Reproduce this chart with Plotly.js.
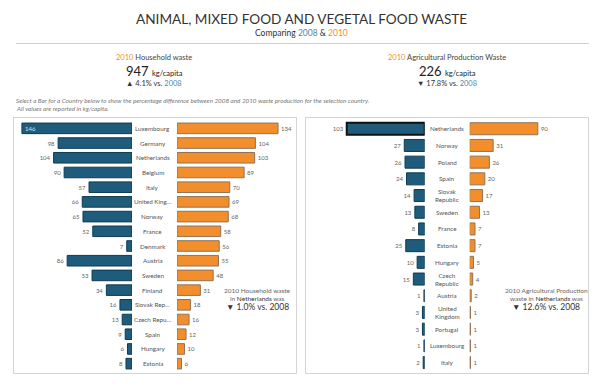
<!DOCTYPE html>
<html>
<head>
<meta charset="utf-8">
<script src="https://cdn.plot.ly/plotly-3.0.1.min.js"></script>
<style>html,body{margin:0;padding:0;background:#fff}#chart{width:602px;height:387px}</style>
</head>
<body>
<div id="chart"></div>
<script>
// ---- data ----
const hhCountries = ['Luxembourg','Germany','Netherlands','Belgium','Italy','United Kingdom','Norway','France','Denmark','Austria','Sweden','Finland','Slovak Republic','Czech Republic','Spain','Hungary','Estonia'];
const hhLabels = ['Luxembourg','Germany','Netherlands','Belgium','Italy','United King…','Norway','France','Denmark','Austria','Sweden','Finland','Slovak Rep…','Czech Repu…','Spain','Hungary','Estonia'];
const hh2008 = [146,98,104,90,57,66,65,52,7,86,53,34,16,13,9,6,8];
const hh2010 = [134,104,103,89,70,69,68,58,56,55,48,31,18,16,12,10,6];

const agCountries = ['Netherlands','Norway','Poland','Spain','Slovak Republic','Sweden','France','Estonia','Hungary','Czech Republic','Austria','United Kingdom','Portugal','Luxembourg','Italy'];
const agLabels = ['Netherlands','Norway','Poland','Spain','Slovak<br>Republic','Sweden','France','Estonia','Hungary','Czech<br>Republic','Austria','United<br>Kingdom','Portugal','Luxembourg','Italy'];
const ag2008 = [103,27,26,24,14,13,8,25,10,15,1,3,3,1,2];
const ag2010 = [90,31,26,20,17,13,7,7,5,4,2,1,1,1,1];

const selectedCountry = 'Netherlands';

// ---- helpers ----
const W = 602, H = 387;
const px = x => x / W;
const py = y => 1 - y / H;
const sum = a => a.reduce((s, v) => s + v, 0);
const pct = (a, b) => (b - a) / a * 100;
const arrow = v => v >= 0 ? '▲' : '▼';

const C08 = '#1f5b7a', C08L = '#0f3b52';
const C10 = '#f28e2b', C10L = '#8f7358';
const BLUE_TXT = '#4f87a9';
const FONT = 'Lato, sans-serif';

const hhTot10 = sum(hh2010), hhTot08 = sum(hh2008);
const agTot10 = sum(ag2010), agTot08 = sum(ag2008);
const hhCh = pct(hhTot08, hhTot10), agCh = pct(agTot08, agTot10);
const hi = hhCountries.indexOf(selectedCountry), ai = agCountries.indexOf(selectedCountry);
const hhSel = pct(hh2008[hi], hh2010[hi]), agSel = pct(ag2008[ai], ag2010[ai]);

function barTrace(vals, cats, xa, ya, color, lineColor, selectedLines, insideBig) {
  return {
    type: 'bar', orientation: 'h', x: vals, y: cats, xaxis: xa, yaxis: ya,
    width: 0.72,
    marker: {
      color: color,
      line: {
        color: selectedLines ? cats.map(c => c === selectedCountry ? '#111' : lineColor) : lineColor,
        width: selectedLines ? cats.map(c => c === selectedCountry ? 2 : 1) : 1
      }
    },
    text: vals.map(String),
    textposition: vals.map(v => insideBig && v >= 140 ? 'inside' : 'outside'),
    insidetextanchor: 'end',
    textfont: {size: 6, color: '#666', family: FONT},
    insidetextfont: {size: 6, color: '#d7e2ea', family: FONT},
    outsidetextfont: {size: 6, color: '#666', family: FONT},
    cliponaxis: false, constraintext: 'none',
    hoverinfo: 'x+y', showlegend: false
  };
}

const data = [
  barTrace(hh2008, hhCountries, 'x', 'y', C08, C08L, false, true),
  barTrace(hh2010, hhCountries, 'x2', 'y', C10, C10L, false, false),
  barTrace(ag2008, agCountries, 'x3', 'y2', C08, C08L, true, false),
  barTrace(ag2010, agCountries, 'x4', 'y2', C10, C10L, false, false)
];

const ax = (domain, range, anchor) => ({
  domain: domain, range: range, anchor: anchor, autorange: false,
  showgrid: false, zeroline: false, showticklabels: false, showline: false, ticks: '', fixedrange: true
});
const yax = (cats, top, bottom, anchor) => ({
  domain: [py(bottom), py(top)], type: 'category', categoryarray: cats, categoryorder: 'array',
  range: [cats.length - 0.5, -0.5], autorange: false, anchor: anchor,
  showgrid: false, zeroline: false, showticklabels: false, showline: false, ticks: '', fixedrange: true
});

const ann = [];
function t(x, y, text, size, color, opts) {
  ann.push(Object.assign({xref: 'paper', yref: 'paper', x: x, y: y, text: text, showarrow: false,
    xanchor: 'center', yanchor: 'middle', font: {size: size, color: color, family: FONT}}, opts || {}));
}

// header
t(0.5, py(18.5), 'ANIMAL, MIXED FOOD AND VEGETAL FOOD WASTE', 13.6, '#333');
t(0.5, py(33), 'Comparing <span style="color:' + BLUE_TXT + '">2008</span> &amp; <span style="color:' + C10 + '">2010</span>', 8.5, '#333');

// KPIs
function kpi(cx, title, total, ch) {
  t(px(cx), py(57.5), '<span style="color:' + C10 + '">2010</span> ' + title, 7.5, '#444');
  t(px(cx), py(71), total + ' <span style="font-size:7.5px">kg/capita</span>', 13, '#222');
  t(px(cx), py(84), arrow(ch) + ' ' + Math.abs(ch).toFixed(1) + '% vs. <span style="color:' + BLUE_TXT + '">2008</span>', 7.5, '#333');
}
kpi(154, 'Household waste', hhTot10, hhCh);
kpi(447, 'Agricultural Production Waste', agTot10, agCh);

t(px(14), py(101), '<i>Select a Bar for a Country below to show the percentage difference between 2008 and 2010 waste production for the selection country.</i>', 6.3, '#777', {xanchor: 'left'});
t(px(14), py(108.5), '<i>All values are reported in kg/capita.</i>', 6.3, '#777', {xanchor: 'left'});

// category labels
hhCountries.forEach((c, i) => ann.push({xref: 'paper', yref: 'y', x: px(152.5), y: c, text: hhLabels[i], showarrow: false,
  xanchor: 'center', yanchor: 'middle', font: {size: 6.3, color: '#555', family: FONT}}));
agCountries.forEach((c, i) => ann.push({xref: 'paper', yref: 'y2', x: px(447), y: c, text: agLabels[i], showarrow: false,
  xanchor: 'center', yanchor: 'middle', font: {size: 6.3, color: '#555', family: FONT}}));

// selection notes
function note(cx, l1, l2, ch) {
  t(px(cx), py(290.5), l1, 6.5, '#666');
  t(px(cx), py(298.3), l2.replace(selectedCountry, '<span style="color:#333">' + selectedCountry + '</span>'), 6.5, '#666');
  t(px(cx), py(307), arrow(ch) + ' ' + Math.abs(ch).toFixed(1) + '% vs. 2008', 8.5, '#333');
}
note(257.5, '2010 Household waste', 'in ' + selectedCountry + ' was', hhSel);
note(546, '2010 Agricultural Production', 'waste in ' + selectedCountry + ' was', agSel);

const shapes = [
  {type: 'line', xref: 'paper', yref: 'paper', x0: px(16), x1: px(589), y0: py(43.5), y1: py(43.5), line: {color: '#cfcfcf', width: 1}},
  {type: 'rect', xref: 'paper', yref: 'paper', x0: px(13.5), x1: px(296.5), y0: py(117.5), y1: py(373.5), line: {color: '#d3d3d3', width: 1}},
  {type: 'rect', xref: 'paper', yref: 'paper', x0: px(305.5), x1: px(588.5), y0: py(117.5), y1: py(373.5), line: {color: '#d3d3d3', width: 1}}
];

const layout = {
  width: W, height: H, margin: {l: 0, r: 0, t: 0, b: 0},
  paper_bgcolor: '#fff', plot_bgcolor: 'rgba(0,0,0,0)',
  font: {family: FONT, color: '#444'},
  barmode: 'overlay', showlegend: false,
  xaxis: ax([px(14), px(132)], [118 / 0.754, 0], 'y'),
  xaxis2: ax([px(177), px(292)], [0, 115 / 0.754], 'y'),
  xaxis3: ax([px(310), px(424.7)], [114.7 / 0.757, 0], 'y2'),
  xaxis4: ax([px(469.7), px(585)], [0, 115.3 / 0.757], 'y2'),
  yaxis: yax(hhCountries, 121, 371, 'x'),
  yaxis2: yax(agCountries, 120.4, 370.9, 'x3'),
  annotations: ann, shapes: shapes
};

Plotly.newPlot('chart', data, layout, {displayModeBar: false, staticPlot: true});
</script>
</body>
</html>
